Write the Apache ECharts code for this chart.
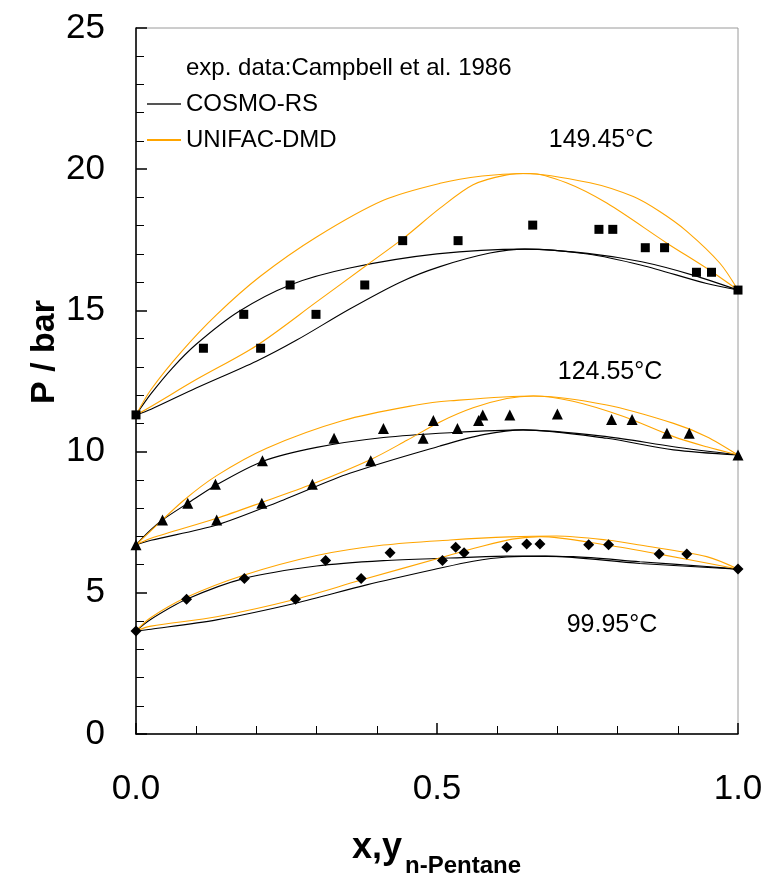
<!DOCTYPE html>
<html>
<head>
<meta charset="utf-8">
<script src="https://cdn.jsdelivr.net/npm/echarts@6/dist/echarts.min.js"></script>
<style>html,body{margin:0;padding:0;background:#fff}#c{width:768px;height:880px}</style>
</head>
<body>
<div id="c"></div>
<script>
// ---- data (x = mole fraction n-pentane, P in bar) ----
const expExp149 = [[0,11.3],[0.112,13.66],[0.179,14.86],[0.207,13.66],[0.256,15.9],[0.299,14.86],[0.38,15.9],[0.443,17.47],[0.535,17.47],[0.659,18.02],[0.769,17.87],[0.792,17.87],[0.846,17.22],[0.878,17.22],[0.931,16.35],[0.956,16.35],[1,15.72]];
const expExp124 = [[0,6.7],[0.044,7.58],[0.086,8.17],[0.132,8.84],[0.134,7.58],[0.209,8.17],[0.21,9.68],[0.293,8.84],[0.329,10.47],[0.39,9.68],[0.411,10.82],[0.477,10.47],[0.494,11.1],[0.534,10.82],[0.569,11.1],[0.576,11.3],[0.621,11.3],[0.7,11.33],[0.79,11.14],[0.824,11.14],[0.882,10.65],[0.919,10.65],[1,9.88]];
const expExp99 = [[0,3.65],[0.084,4.77],[0.18,5.51],[0.265,4.77],[0.315,6.14],[0.374,5.51],[0.422,6.42],[0.509,6.14],[0.531,6.61],[0.545,6.42],[0.616,6.61],[0.649,6.73],[0.671,6.73],[0.752,6.7],[0.785,6.7],[0.869,6.37],[0.915,6.37],[1,5.84]];

const cosmo149Upper = [[0,11.3],[0.025,12.05],[0.06,12.95],[0.1,13.8],[0.17,14.95],[0.256,15.9],[0.355,16.5],[0.5,17.0],[0.646,17.17],[0.75,17.02],[0.84,16.72],[0.925,16.25],[1,15.72]];
const cosmo149Lower = [[0,11.3],[0.025,11.5],[0.1,12.25],[0.2,13.2],[0.267,13.95],[0.355,15.05],[0.439,16.0],[0.505,16.55],[0.588,17.03],[0.646,17.17],[0.75,17.0],[0.84,16.6],[0.948,15.95],[1,15.72]];
const unifac149Upper = [[0,11.3],[0.025,12.2],[0.076,13.55],[0.134,14.85],[0.206,16.2],[0.3,17.6],[0.411,18.9],[0.505,19.5],[0.575,19.76],[0.643,19.85],[0.754,19.52],[0.826,19.03],[0.87,18.5],[0.915,17.8],[0.97,16.67],[1,15.72]];
const unifac149Lower = [[0,11.3],[0.025,11.6],[0.1,12.55],[0.2,13.75],[0.3,15.3],[0.383,16.6],[0.444,17.55],[0.505,18.62],[0.56,19.45],[0.616,19.8],[0.655,19.85],[0.715,19.52],[0.782,18.8],[0.882,17.38],[0.948,16.49],[1,15.72]];

const cosmo124Upper = [[0,6.7],[0.023,7.2],[0.044,7.58],[0.086,8.17],[0.132,8.8],[0.21,9.65],[0.3,10.15],[0.411,10.5],[0.522,10.67],[0.643,10.77],[0.782,10.53],[0.893,10.17],[1,9.88]];
const cosmo124Lower = [[0,6.7],[0.025,6.86],[0.134,7.4],[0.245,8.29],[0.355,9.23],[0.505,10.2],[0.577,10.6],[0.643,10.77],[0.782,10.47],[0.893,10.06],[1,9.88]];
const unifac124Upper = [[0,6.7],[0.023,7.16],[0.079,8.27],[0.134,9.15],[0.217,10.12],[0.344,11.1],[0.466,11.65],[0.522,11.8],[0.66,11.97],[0.782,11.65],[0.893,11.0],[0.948,10.53],[1,9.88]];
const unifac124Lower = [[0,6.7],[0.025,6.93],[0.134,7.64],[0.209,8.2],[0.293,8.85],[0.39,9.72],[0.45,10.4],[0.505,11.05],[0.56,11.55],[0.616,11.88],[0.66,11.97],[0.726,11.78],[0.81,11.24],[0.893,10.53],[0.948,10.17],[1,9.88]];

const cosmo99Upper = [[0,3.65],[0.023,4.04],[0.084,4.77],[0.18,5.51],[0.3,5.95],[0.411,6.14],[0.522,6.23],[0.616,6.3],[0.726,6.28],[0.837,6.1],[0.948,5.93],[1,5.84]];
const cosmo99Lower = [[0,3.65],[0.025,3.71],[0.134,4.04],[0.265,4.63],[0.383,5.28],[0.5,5.85],[0.56,6.12],[0.616,6.27],[0.68,6.3],[0.837,6.04],[1,5.84]];
const unifac99Upper = [[0,3.65],[0.023,4.1],[0.084,4.84],[0.18,5.63],[0.3,6.32],[0.411,6.69],[0.522,6.87],[0.62,6.98],[0.699,7.01],[0.782,6.87],[0.837,6.69],[0.948,6.28],[1,5.84]];
const unifac99Lower = [[0,3.65],[0.025,3.82],[0.134,4.15],[0.265,4.77],[0.374,5.45],[0.509,6.26],[0.57,6.62],[0.625,6.9],[0.671,6.99],[0.782,6.69],[0.869,6.37],[1,5.84]];

const legendNames = ['exp. data:Campbell et al. 1986', 'COSMO-RS', 'UNIFAC-DMD'];
const tempLabels = ['149.45°C', '124.55°C', '99.95°C'];
const xRange = [0, 1];
const yRange = [0, 25];

// ---- chart ----
const FONT = 'Liberation Sans, Arial, sans-serif';
const BLACK = '#000000', ORANGE = '#FFA500';
const chart = echarts.init(document.getElementById('c'), null, {renderer: 'canvas'});

function curve(name, data, color) {
  return {name: name, type: 'line', data: data, smooth: 0.3, symbol: 'none', clip: false,
    lineStyle: {color: color, width: 1.1}, itemStyle: {color: color}, z: 2, silent: true};
}
function points(data, symbol, size) {
  return {name: legendNames[0], type: 'scatter', data: data, symbol: symbol, symbolSize: size,
    itemStyle: {color: BLACK, opacity: 1}, clip: false, z: 4};
}

const series = [
  curve(legendNames[1], cosmo149Upper, BLACK), curve(legendNames[1], cosmo149Lower, BLACK),
  curve(legendNames[1], cosmo124Upper, BLACK), curve(legendNames[1], cosmo124Lower, BLACK),
  curve(legendNames[1], cosmo99Upper, BLACK), curve(legendNames[1], cosmo99Lower, BLACK),
  curve(legendNames[2], unifac149Upper, ORANGE), curve(legendNames[2], unifac149Lower, ORANGE),
  curve(legendNames[2], unifac124Upper, ORANGE), curve(legendNames[2], unifac124Lower, ORANGE),
  curve(legendNames[2], unifac99Upper, ORANGE), curve(legendNames[2], unifac99Lower, ORANGE),
  points(expExp149, 'rect', 9),
  points(expExp124, 'triangle', 11),
  points(expExp99, 'diamond', 11)
];

const option = {
  backgroundColor: '#ffffff',
  animation: false,
  grid: {left: 136, right: 30, top: 28, bottom: 146, show: true, borderColor: '#9a9a9a', borderWidth: 1},
  legend: {
    orient: 'vertical', left: 142, top: 51, itemGap: 12, itemWidth: 34, itemHeight: 2,
    selectedMode: false,
    textStyle: {fontFamily: FONT, fontSize: 24, color: '#000'},
    data: [
      {name: legendNames[0], icon: 'none'},
      {name: legendNames[1], icon: 'rect', itemStyle: {color: '#555555'}},
      {name: legendNames[2], icon: 'rect', itemStyle: {color: ORANGE}}
    ]
  },
  xAxis: {
    type: 'value', min: xRange[0], max: xRange[1], interval: 0.5,
    axisLine: {show: true, lineStyle: {color: '#000', width: 1.5}},
    axisTick: {show: true, inside: true, length: 11, lineStyle: {color: '#000', width: 1.5}},
    minorTick: {show: true, splitNumber: 5, length: 8, lineStyle: {color: '#000', width: 1}},
    splitLine: {show: false},
    axisLabel: {fontFamily: FONT, fontSize: 35, color: '#000', margin: 38, formatter: v => v.toFixed(1)}
  },
  yAxis: {
    type: 'value', min: yRange[0], max: yRange[1], interval: 5,
    axisLine: {show: true, lineStyle: {color: '#000', width: 1.5}},
    axisTick: {show: true, inside: true, length: 11, lineStyle: {color: '#000', width: 1.5}},
    minorTick: {show: true, splitNumber: 5, length: 8, lineStyle: {color: '#000', width: 1}},
    splitLine: {show: false},
    axisLabel: {fontFamily: FONT, fontSize: 35, color: '#000', margin: 31}
  },
  graphic: [
    {type: 'text', x: 45, y: 352, rotation: Math.PI / 2,
      style: {text: 'P / bar', fontFamily: FONT, fontSize: 34, fontWeight: 'bold', fill: '#000', align: 'center', verticalAlign: 'middle'}},
    {type: 'text', x: 402, y: 848,
      style: {text: 'x,y', fontFamily: FONT, fontSize: 36, fontWeight: 'bold', fill: '#000', align: 'right', verticalAlign: 'middle'}},
    {type: 'text', x: 405, y: 866,
      style: {text: 'n-Pentane', fontFamily: FONT, fontSize: 24, fontWeight: 'bold', fill: '#000', align: 'left', verticalAlign: 'middle'}},
    {type: 'text', x: 601, y: 140,
      style: {text: tempLabels[0], fontFamily: FONT, fontSize: 25, fill: '#000', align: 'center', verticalAlign: 'middle'}},
    {type: 'text', x: 610, y: 372,
      style: {text: tempLabels[1], fontFamily: FONT, fontSize: 25, fill: '#000', align: 'center', verticalAlign: 'middle'}},
    {type: 'text', x: 612, y: 625,
      style: {text: tempLabels[2], fontFamily: FONT, fontSize: 25, fill: '#000', align: 'center', verticalAlign: 'middle'}}
  ],
  series: series
};
chart.setOption(option);
</script>
</body>
</html>
